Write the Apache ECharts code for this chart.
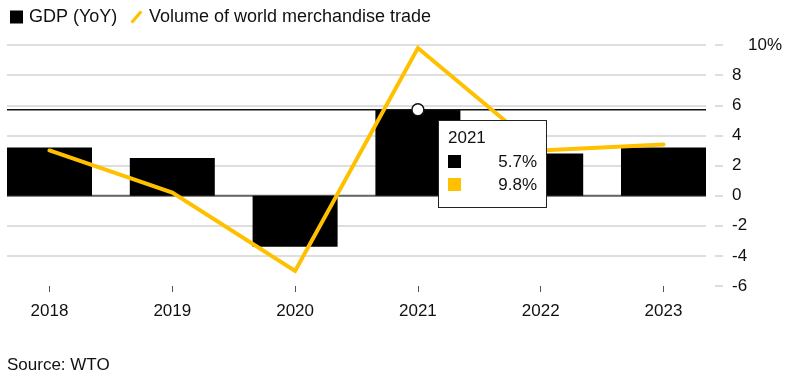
<!DOCTYPE html>
<html>
<head>
<meta charset="utf-8">
<script src="https://cdn.jsdelivr.net/npm/echarts@6/dist/echarts.min.js"></script>
<style>
html,body{margin:0;padding:0;background:#fff;}
#chart{width:797px;height:390px;}
</style>
</head>
<body>
<div id="chart"></div>
<script>
// ---- data ----
var years = ['2018', '2019', '2020', '2021', '2022', '2023'];
var gdp = [3.2, 2.5, -3.4, 5.7, 2.8, 3.2];
var trade = [3.0, 0.2, -5.0, 9.8, 3.0, 3.4];
var yTicks = [-6, -4, -2, 0, 2, 4, 6, 8, 10];
var highlightIndex = 3;

var FONT = 'Liberation Sans, Arial, sans-serif';
var YELLOW = '#ffc000';

var chart = echarts.init(document.getElementById('chart'), null, {renderer: 'canvas'});

var yMin = yTicks[0], yMax = yTicks[yTicks.length - 1], yStep = yTicks[1] - yTicks[0];

var option = {
  animation: false,
  textStyle: {fontFamily: FONT},
  title: {
    text: 'Source: WTO',
    left: 7, top: 357, padding: 0,
    textStyle: {fontFamily: FONT, fontSize: 17, fontWeight: 'normal', color: '#111'}
  },
  legend: {
    left: 10, top: 8, padding: 0,
    itemWidth: 13, itemHeight: 13, itemGap: 13,
    textStyle: {fontFamily: FONT, fontSize: 18, color: '#111', padding: [0, 0, 0, 1]},
    data: [
      {name: 'GDP (YoY)', icon: 'rect', itemStyle: {color: '#000'}},
      {name: 'Volume of world merchandise trade', icon: 'path://M0,13 L11,0 L14,2 L3,15 Z', itemStyle: {color: YELLOW}}
    ]
  },
  tooltip: {
    trigger: 'item',
    triggerOn: 'none',
    alwaysShowContent: true,
    transitionDuration: 0,
    backgroundColor: '#fff',
    borderColor: '#222',
    borderWidth: 1,
    padding: [5, 9, 10, 9],
    extraCssText: 'box-shadow:none;border-radius:0;',
    position: [438, 120],
    formatter: function (p) {
      var i = p.dataIndex;
      function row(color, val) {
        return '<div style="display:flex;align-items:center;justify-content:space-between;height:23.5px;">' +
          '<span style="display:inline-block;width:13px;height:13px;background:' + color + ';"></span>' +
          '<span>' + val.toFixed(1) + '%</span></div>';
      }
      return '<div style="width:89px;font-family:' + FONT + ';font-size:17px;color:#111;line-height:23.5px;">' +
        '<div>' + years[i] + '</div>' + row('#000', gdp[i]) + row(YELLOW, trade[i]) + '</div>';
    }
  },
  grid: [
    {left: 49.5, right: 133.5, top: 45, bottom: 104},
    {left: 7, right: 91, top: 45, bottom: 104},
    {left: 715, right: 74, top: 45, bottom: 104}
  ],
  xAxis: [
    {
      type: 'category', gridIndex: 0, data: years, boundaryGap: false,
      axisLine: {show: false, onZero: false},
      axisTick: {show: true, length: 6, lineStyle: {color: '#555', width: 1}},
      axisLabel: {color: '#111', fontFamily: FONT, fontSize: 17, margin: 17},
      splitLine: {show: false}
    },
    {type: 'value', gridIndex: 1, min: 0, max: 1, show: false, axisLine: {onZero: false}},
    {type: 'value', gridIndex: 2, min: 0, max: 1, show: false, axisLine: {onZero: false}}
  ],
  yAxis: [
    {type: 'value', gridIndex: 0, min: yMin, max: yMax, interval: yStep, show: false},
    {
      type: 'value', gridIndex: 1, min: yMin, max: yMax, interval: yStep,
      position: 'right',
      axisLine: {show: false},
      axisTick: {show: false},
      axisLabel: {
        color: '#111', fontFamily: FONT, fontSize: 17, margin: 26, align: 'left',
        formatter: function (v) { return v === yMax ? '{p|' + v + '%}' : String(v); },
        rich: {p: {padding: [0, 0, 0, 16], fontSize: 17, fontFamily: FONT, color: '#111'}}
      },
      splitLine: {show: true, showMinLine: false, lineStyle: {color: '#dedede', width: 2}}
    },
    {
      type: 'value', gridIndex: 2, min: yMin, max: yMax, interval: yStep,
      axisLine: {show: false}, axisTick: {show: false}, axisLabel: {show: false},
      splitLine: {show: true, lineStyle: {color: '#dedede', width: 2}}
    }
  ],
  series: [
    {
      name: 'zero-line', type: 'line', xAxisIndex: 1, yAxisIndex: 1,
      data: [[0, 0], [1, 0]],
      symbol: 'none', lineStyle: {color: '#666', width: 2}, z: 1,
      silent: true, tooltip: {show: false}
    },
    {
      name: 'GDP (YoY)', type: 'bar', xAxisIndex: 0, yAxisIndex: 0,
      data: gdp, barWidth: 85, clip: false,
      itemStyle: {color: '#000'}, z: 2
    },
    {
      name: 'hover-level', type: 'line', xAxisIndex: 1, yAxisIndex: 1,
      data: [[0, gdp[highlightIndex]], [1, gdp[highlightIndex]]],
      symbol: 'none', lineStyle: {color: '#111', width: 1.5}, z: 3,
      silent: true, tooltip: {show: false}
    },
    {
      name: 'Volume of world merchandise trade', type: 'line', xAxisIndex: 0, yAxisIndex: 0,
      data: trade, symbol: 'none', color: YELLOW,
      lineStyle: {color: YELLOW, width: 4, cap: 'round', join: 'miter'}, z: 4
    },
    {
      name: 'hover-point', type: 'scatter', xAxisIndex: 0, yAxisIndex: 0,
      data: gdp.map(function (v, i) { return i === highlightIndex ? v : '-'; }),
      symbol: 'circle', symbolSize: 12,
      itemStyle: {color: '#fff', borderColor: '#111', borderWidth: 1.5, opacity: 1}, z: 5,
      tooltip: {show: false}
    }
  ]
};

chart.setOption(option);
chart.dispatchAction({type: 'showTip', seriesIndex: 1, dataIndex: highlightIndex});
</script>
</body>
</html>
